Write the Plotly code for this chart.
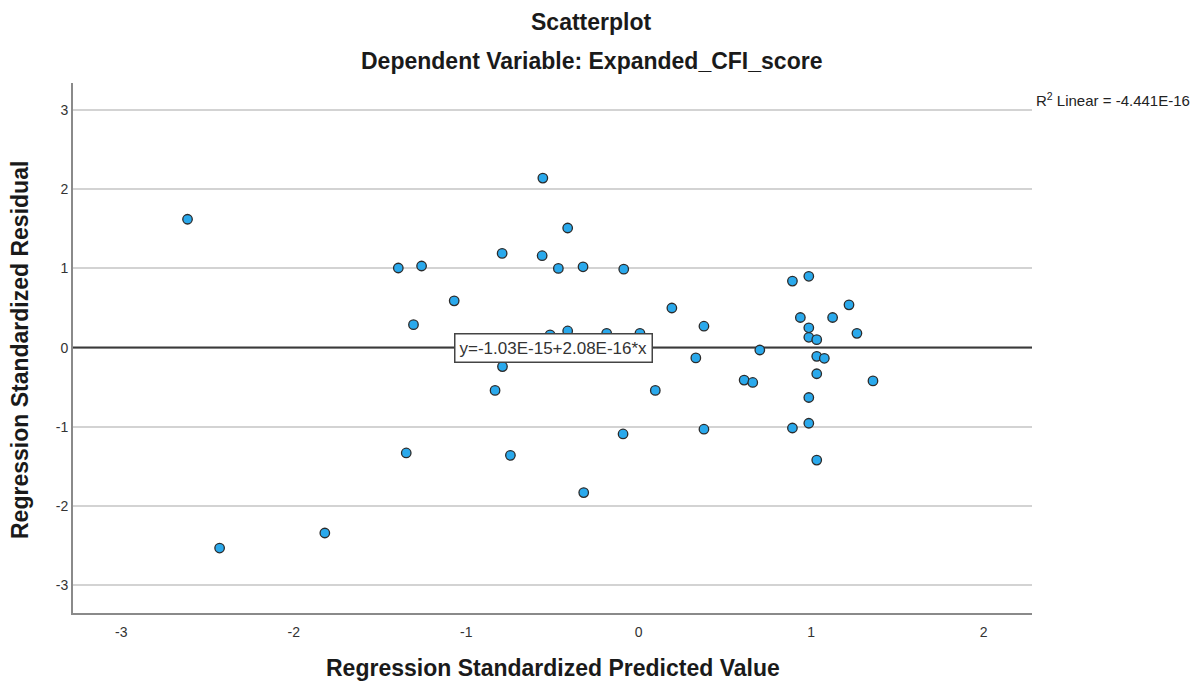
import plotly.graph_objects as go

# Data
pred = [-2.616, -2.43, -1.82, -1.394, -1.259, -1.306, -1.348, -1.070,
        -0.556, -0.412, -0.792, -0.560, -0.466, -0.323, -0.087, 0.192,
        -0.514, -0.412, -0.186, 0.007, -0.790, -0.833, 0.096, -0.091,
        -0.744, -0.319, 0.378, 0.891, 0.986, 1.219, 0.378, 0.937,
        1.124, 0.986, 1.265, 0.986, 1.032, 0.702, 0.331, 1.032,
        1.076, 1.032, 0.611, 0.661, 1.358, 0.986, 0.891, 0.986, 1.032]
resid = [1.62, -2.53, -2.34, 1.005, 1.03, 0.29, -1.33, 0.59,
         2.14, 1.51, 1.19, 1.16, 1.00, 1.02, 0.99, 0.50,
         0.16, 0.21, 0.18, 0.18, -0.24, -0.54, -0.54, -1.09,
         -1.36, -1.83, -1.03, 0.84, 0.90, 0.54, 0.27, 0.38,
         0.38, 0.25, 0.18, 0.13, 0.10, -0.03, -0.13, -0.11,
         -0.135, -0.33, -0.41, -0.44, -0.42, -0.63, -1.015, -0.955, -1.42]

intercept = -1.03e-15
slope = 2.08e-16
r2_text = "R<sup>2</sup> Linear = -4.441E-16"
eq_text = "y=-1.03E-15+2.08E-16*x"

x_range = [-3.28, 2.28]
y_range = [-3.35, 3.34]
x_ticks = [-3, -2, -1, 0, 1, 2]
x_ticktext = ["-3", "-2", "-1", "0", "1", "2"]
y_ticks = [-3, -2, -1, 0, 1, 2, 3]
y_ticktext = ["-3", "-2", "-1", "0", "1", "2", "3"]

FONT = "Liberation Sans, Arial, sans-serif"

fig = go.Figure()

# fit line across the x range
fit_x = x_range
fit_y = [intercept + slope * v for v in fit_x]
fig.add_trace(go.Scatter(x=fit_x, y=fit_y, mode="lines",
                         line=dict(color="#3a3a3a", width=2),
                         hoverinfo="skip", showlegend=False))

fig.add_trace(go.Scatter(x=pred, y=resid, mode="markers",
                         marker=dict(size=9.5, color="#2aa9ec",
                                     line=dict(color="#2b2b2b", width=1.3)),
                         showlegend=False))

L, R, T, B = 73, 168, 83, 74
PW = 1200 - L - R
PH = 687 - T - B
fig.update_layout(
    width=1200, height=687,
    margin=dict(l=L, r=R, t=T, b=B),
    paper_bgcolor="white", plot_bgcolor="white",
    font=dict(family=FONT, color="#222"),
    xaxis=dict(range=x_range, tickvals=x_ticks, ticktext=x_ticktext,
               showgrid=False, zeroline=False, automargin=False,
               showline=True, linecolor="#8a8a8a", linewidth=2,
               ticks="", ticklabelstandoff=5, tickfont=dict(size=14, color="#333")),
    yaxis=dict(range=y_range, tickvals=y_ticks, ticktext=y_ticktext, showgrid=True,
               gridcolor="#d3d3d3", gridwidth=2, zeroline=False, automargin=False,
               showline=True, linecolor="#8a8a8a", linewidth=2,
               ticks="", tickfont=dict(size=14, color="#333")),
    annotations=[
        dict(text="<b>Scatterplot</b>", xref="paper", yref="paper",
             x=(591 - L) / PW, y=1, yanchor="middle", yshift=61,
             showarrow=False, font=dict(size=23, color="#1a1a1a")),
        dict(text="<b>Dependent Variable: Expanded_CFI_score</b>", xref="paper", yref="paper",
             x=(591 - L) / PW, y=1, yanchor="middle", yshift=22,
             showarrow=False, font=dict(size=23, color="#1a1a1a")),
        dict(text="<b>Regression Standardized Predicted Value</b>", xref="paper", yref="paper",
             x=0.5, y=0, yanchor="middle", yshift=-(668 - (687 - B)),
             showarrow=False, font=dict(size=23, color="#1a1a1a")),
        dict(text="<b>Regression Standardized Residual</b>", xref="paper", yref="paper",
             x=0, xanchor="center", xshift=-(L - 20), y=(687 - B - 350) / PH, yanchor="middle",
             textangle=-90, showarrow=False, font=dict(size=23, color="#1a1a1a")),
        dict(text=r2_text, xref="paper", yref="paper", x=1, xshift=2, y=1, yanchor="middle",
             yshift=-16, xanchor="left", showarrow=False, font=dict(size=15, color="#222")),
        dict(text=eq_text, x=-0.494, y=0, xref="x", yref="y", showarrow=False,
             bgcolor="white", bordercolor="#444", borderwidth=1.5, borderpad=4,
             font=dict(size=17, color="#333")),
    ],
)

fig.write_html("out.html")
